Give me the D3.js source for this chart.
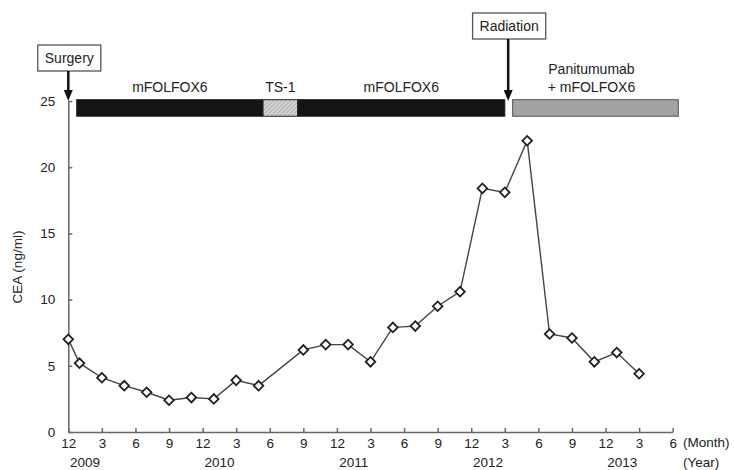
<!DOCTYPE html>
<html>
<head>
<meta charset="utf-8">
<script src="https://cdn.jsdelivr.net/npm/d3@7"></script>
<style>
  body { margin: 0; background: #fff; }
  text { font-family: "Liberation Sans", Arial, sans-serif; fill: #222; }
</style>
</head>
<body>
<div id="chart"></div>
<script>
// CEA time course, months counted from Dec 2008 (index 0)
const months = [0, 1, 3, 5, 7, 9, 11, 13, 15, 17, 21, 23, 25, 27, 29, 31, 33, 35, 37, 39, 41, 43, 45, 47, 49, 51];
const cea = [7.0, 5.2, 4.1, 3.5, 3.0, 2.4, 2.6, 2.5, 3.9, 3.5, 6.2, 6.6, 6.6, 5.3, 7.9, 8.0, 9.5, 10.6, 18.4, 18.1, 22.0, 7.4, 7.1, 5.3, 6.0, 4.4];

const monthTicks = d3.range(0, 55, 3);
const monthNames = [12, 1, 2, 3, 4, 5, 6, 7, 8, 9, 10, 11];
const yearLabels = ["2009", "2010", "2011", "2012", "2013"];
const yTicks = [0, 5, 10, 15, 20, 25];

// treatment bars (start/end in months)
const treatNames = ["mFOLFOX6", "TS-1", "mFOLFOX6", "Panitumumab|+ mFOLFOX6"];
const treatStart = [0.75, 17.4, 20.5, 39.7];
const treatEnd = [17.4, 20.5, 39.0, 54.5];
const treatKind = ["black", "hatch", "black", "grey"];

// events
const eventNames = ["Surgery", "Radiation"];
const eventMonth = [0, 39.3];

const width = 734, height = 470;

const svg = d3.select("#chart").append("svg")
  .attr("width", width)
  .attr("height", height);

const x = d3.scaleLinear().domain([0, 54]).range([68.3, 672.7]);
const y = d3.scaleLinear().domain([0, 25]).range([432, 101]);

// hatch pattern for TS-1
const defs = svg.append("defs");
const pat = defs.append("pattern")
  .attr("id", "hatch")
  .attr("patternUnits", "userSpaceOnUse")
  .attr("width", 3).attr("height", 3)
  .attr("patternTransform", "rotate(45)");
pat.append("rect").attr("width", 3).attr("height", 3).attr("fill", "#d4d4d4");
pat.append("line").attr("x1", 0).attr("y1", 0).attr("x2", 0).attr("y2", 3)
  .attr("stroke", "#8a8a8a").attr("stroke-width", 1);

// y axis
svg.append("g")
  .attr("transform", `translate(${x(0)},0)`)
  .call(d3.axisLeft(y).tickValues(yTicks).tickSizeInner(-4).tickSizeOuter(0).tickPadding(13))
  .call(g => g.selectAll("path, line").attr("stroke", "#666").attr("stroke-width", 1.5))
  .call(g => g.selectAll("text").attr("font-size", "13.5px").attr("fill", "#222"))
  .attr("font-family", null);

// x axis
svg.append("g")
  .attr("transform", `translate(0,${y(0)})`)
  .call(d3.axisBottom(x).tickValues(monthTicks).tickSizeInner(-4).tickSizeOuter(0).tickPadding(6)
    .tickFormat(m => monthNames[m % 12]))
  .call(g => g.selectAll("path, line").attr("stroke", "#666").attr("stroke-width", 1.5))
  .call(g => g.selectAll("text").attr("font-size", "13.5px").attr("fill", "#222"))
  .attr("font-family", null);

// year labels
svg.selectAll(".year")
  .data(yearLabels)
  .enter()
  .append("text")
    .attr("class", "year")
    .attr("x", (d, i) => x(1.5 + 12 * i))
    .attr("y", 467)
    .attr("text-anchor", "middle")
    .attr("font-size", "13.5px")
    .text(d => d);

svg.append("text").attr("x", 683).attr("y", 447).attr("font-size", "13.5px").text("(Month)");
svg.append("text").attr("x", 683).attr("y", 467).attr("font-size", "13.5px").text("(Year)");

// y label
svg.append("text")
  .attr("transform", "translate(22,267) rotate(-90)")
  .attr("text-anchor", "middle")
  .attr("font-size", "13.5px")
  .text("CEA (ng/ml)");

// treatment bars
const fills = {black: "#141414", hatch: "url(#hatch)", grey: "#a3a3a3"};
svg.selectAll(".treat")
  .data(treatNames)
  .enter()
  .append("rect")
    .attr("class", "treat")
    .attr("x", (d, i) => x(treatStart[i]))
    .attr("width", (d, i) => x(treatEnd[i]) - x(treatStart[i]))
    .attr("y", y(25.1))
    .attr("height", y(23.85) - y(25.1))
    .attr("fill", (d, i) => fills[treatKind[i]])
    .attr("stroke", (d, i) => treatKind[i] == "grey" ? "#555" : "#222")
    .attr("stroke-width", 1);

svg.selectAll(".treatLabel")
  .data(treatNames)
  .enter()
  .append("text")
    .attr("class", "treatLabel")
    .attr("text-anchor", "middle")
    .attr("font-size", "14px")
    .attr("x", (d, i) => x((treatStart[i] + treatEnd[i]) / 2) - (i == 3 ? 4 : 0))
    .attr("y", 92)
    .each(function(d) {
      const lines = d.split("|");
      const t = d3.select(this);
      lines.forEach((s, k) => {
        t.append("tspan")
          .attr("x", t.attr("x"))
          .attr("dy", k == 0 ? -(lines.length - 1) * 18 : 18)
          .text(s);
      });
    });

// events: box + arrow
const boxY = [45, 13];
eventNames.forEach((name, i) => {
  const cx = x(eventMonth[i]);
  const g = svg.append("g");
  const t = g.append("text")
    .attr("x", cx + 1).attr("y", boxY[i] + 18)
    .attr("text-anchor", "middle")
    .attr("font-size", "14px")
    .text(name);
  const w = t.node().getComputedTextLength() + 14;
  g.insert("rect", "text")
    .attr("x", cx + 1 - w / 2).attr("y", boxY[i])
    .attr("width", w).attr("height", 26)
    .attr("fill", "#fff").attr("stroke", "#555").attr("stroke-width", 1.3);
  g.append("line")
    .attr("x1", cx).attr("x2", cx)
    .attr("y1", boxY[i] + 26).attr("y2", 92)
    .attr("stroke", "#111").attr("stroke-width", 2.5);
  g.append("path")
    .attr("d", `M${cx - 4.5},90 L${cx + 4.5},90 L${cx},101 Z`)
    .attr("fill", "#111");
});

// CEA line
const line = d3.line()
  .x((d, i) => x(months[i]))
  .y(d => y(d));

svg.append("path")
  .datum(cea)
  .attr("d", line)
  .attr("fill", "none")
  .attr("stroke", "#444")
  .attr("stroke-width", 1.4);

svg.selectAll(".pt")
  .data(cea)
  .enter()
  .append("path")
    .attr("class", "pt")
    .attr("d", d3.symbol(d3.symbolSquare, 46))
    .attr("transform", (d, i) => `translate(${x(months[i])},${y(d)}) rotate(45)`)
    .attr("fill", "#fff")
    .attr("stroke", "#222")
    .attr("stroke-width", 1.8);
</script>
</body>
</html>
